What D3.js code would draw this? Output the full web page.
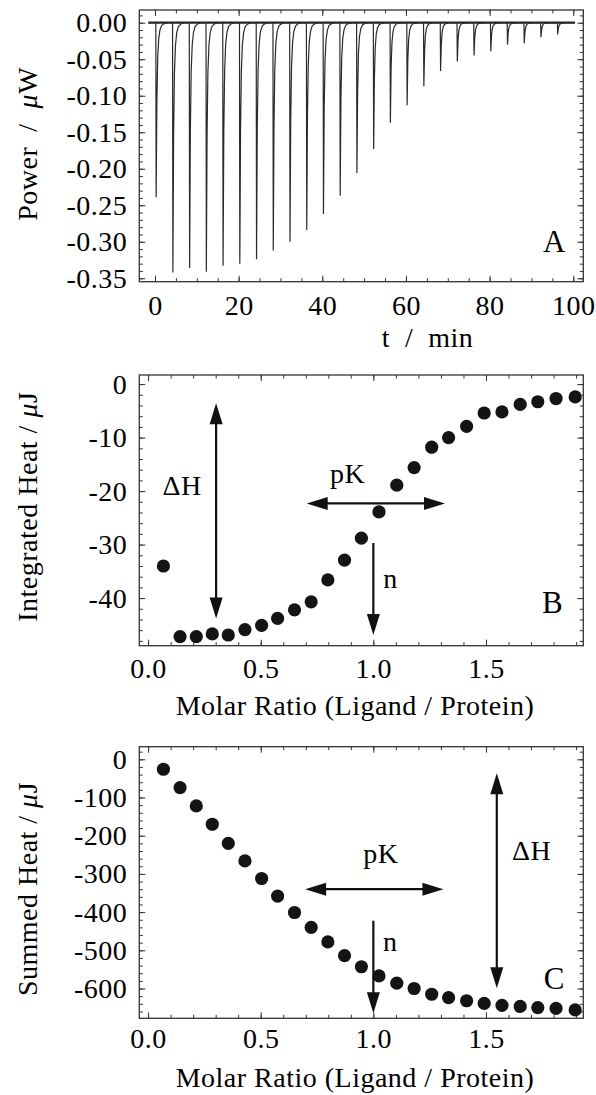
<!DOCTYPE html>
<html>
<head>
<meta charset="utf-8">
<script src="https://cdn.jsdelivr.net/npm/d3@7"></script>
<style>
  body { margin: 0; background: #fff; }
  svg text { font-family: "Liberation Serif", "Times New Roman", serif; fill: #000; letter-spacing: 0.5px; white-space: pre; }
</style>
</head>
<body>
<div id="chart"></div>
<script>
// ITC figure: raw thermogram (A), integrated heats (B), summed heats (C)

// A: injection times (min) and peak power (µW) of each injection
const injTime = [0.2, 4.2, 8.2, 12.2, 16.2, 20.2, 24.2, 28.2, 32.2, 36.2, 40.2, 44.2, 48.2,
                 52.2, 56.2, 60.2, 64.2, 68.2, 72.2, 76.2, 80.2, 84.2, 88.2, 92.2, 96.2];
const peakPower = [-0.239, -0.342, -0.336, -0.341, -0.333, -0.330, -0.324, -0.312, -0.300,
                   -0.284, -0.262, -0.237, -0.206, -0.173, -0.137, -0.113, -0.087, -0.066,
                   -0.053, -0.045, -0.039, -0.030, -0.028, -0.020, -0.016];
// shape of one peak: minutes after injection / fraction of peak depth
const peakOffset = [0, 0.08, 0.25, 0.45, 0.7, 1.0, 1.4, 2.0, 2.8];
const peakFrac = [0, 1, 0.45, 0.2, 0.09, 0.04, 0.015, 0.005, 0];
const traceStart = -1.6, traceEnd = 100.4;

// B/C: molar ratio, integrated heat (µJ), summed heat (µJ)
const molarRatio = [0.068, 0.142, 0.214, 0.285, 0.356, 0.430, 0.504, 0.575, 0.650, 0.724,
                    0.798, 0.872, 0.947, 1.025, 1.104, 1.181, 1.259, 1.334, 1.414, 1.492,
                    1.571, 1.652, 1.730, 1.811, 1.896];
const intHeat = [-34.0, -47.2, -47.2, -46.7, -46.9, -45.9, -45.1, -43.8, -42.2, -40.7,
                 -36.6, -32.9, -28.8, -23.9, -18.9, -15.6, -11.8, -10.0, -7.9, -5.4,
                 -5.2, -3.8, -3.3, -2.7, -2.4];
const sumHeat = [-26, -74, -122, -170, -220, -266, -312, -358, -401, -440,
                 -478, -514, -543, -567, -586, -600, -615, -624, -632, -639,
                 -644, -647, -650, -652, -656];

// tick labels
const timeTicks = [0, 20, 40, 60, 80, 100];
const powerTicks = [0, -0.05, -0.10, -0.15, -0.20, -0.25, -0.30, -0.35];
const ratioTicks = [0, 0.5, 1.0, 1.5];
const intTicks = [0, -10, -20, -30, -40];
const sumTicks = [0, -100, -200, -300, -400, -500, -600];

const W = 596, H = 1095;
const L = 139.3, PW = 444;
const FS = 28;
const INK = "#111";

const svg = d3.select("#chart").append("svg").attr("width", W).attr("height", H);

const range = (a, b, s) => d3.range(Math.round(a / s), Math.round(b / s) + 1).map(i => +(i * s).toFixed(4));
// hyphen instead of unicode minus, like the original
const fmt = spec => { const f = d3.format(spec); return v => f(v).replace("−", "-"); };

function panel(o) {
    const g = svg.append("g").attr("transform", `translate(${L},${o.top})`);
    const h = o.h;
    const x = d3.scaleLinear().domain(o.xDom).range([0, PW]);
    const y = d3.scaleLinear().domain(o.yDom).range([0, h]);

    const axes = [
        [d3.axisBottom, `translate(0,${h})`, x, o.xMaj, o.xMin, o.xFmt, o.xPad],
        [d3.axisTop, null, x, o.xMaj, o.xMin, null],
        [d3.axisLeft, null, y, o.yMaj, o.yMin, o.yFmt, 12],
        [d3.axisRight, `translate(${PW},0)`, y, o.yMaj, o.yMin, null]
    ];
    axes.forEach(([ax, tr, sc, maj, min, f, pad]) => {
        const minor = g.append("g").call(ax(sc).tickValues(min).tickSize(-3.5).tickFormat(""));
        const major = g.append("g").call(ax(sc).tickValues(maj).tickSize(-6).tickPadding(pad || 0)
            .tickFormat(f || ""));
        [minor, major].forEach(a => {
            if (tr) a.attr("transform", tr);
            a.select(".domain").remove();
            a.selectAll("line").attr("stroke", "#333").attr("stroke-width", 1);
            a.selectAll("text").attr("font-size", FS).attr("fill", "#000")
                .style("font-family", '"Liberation Serif", serif');
        });
    });
    g.append("rect").attr("width", PW).attr("height", h)
        .attr("fill", "none").attr("stroke", "#333").attr("stroke-width", 1.3);

    // x title
    g.append("text").attr("x", o.xtX - L).attr("y", o.xtY - o.top)
        .attr("text-anchor", "middle").attr("font-size", FS).text(o.xTitle);
    // y title
    const yt = g.append("text").attr("transform", `translate(${37 - L},${o.ytY - o.top}) rotate(-90)`)
        .attr("text-anchor", "middle").attr("font-size", FS);
    yt.append("tspan").text(o.yTitle[0]);
    yt.append("tspan").attr("font-style", "italic").text("μ");
    yt.append("tspan").text(o.yTitle[1]);
    // panel letter
    g.append("text").attr("x", o.letter[1] - L).attr("y", o.letter[2] - o.top)
        .attr("text-anchor", "end").attr("font-size", 31).text(o.letter[0]);
    return { g, x, y };
}

function arrow(g, x1, y1, x2, y2, both) {
    const len = 21, hw = 6.5;
    const dx = x2 - x1, dy = y2 - y1, d = Math.hypot(dx, dy);
    const ux = dx / d, uy = dy / d;
    const sx = both ? x1 + ux * (len - 2) : x1, sy = both ? y1 + uy * (len - 2) : y1;
    g.append("line").attr("x1", sx).attr("y1", sy)
        .attr("x2", x2 - ux * (len - 2)).attr("y2", y2 - uy * (len - 2))
        .attr("stroke", INK).attr("stroke-width", 2.2);
    const head = (tx, ty, vx, vy) => {
        const bx = tx - vx * len, by = ty - vy * len;
        g.append("path")
            .attr("d", `M${tx},${ty}L${bx - vy * hw},${by + vx * hw}L${bx + vy * hw},${by - vx * hw}Z`)
            .attr("fill", INK);
    };
    head(x2, y2, ux, uy);
    if (both) head(x1, y1, -ux, -uy);
}

function label(g, x, y, txt, anchor) {
    g.append("text").attr("x", x).attr("y", y).attr("font-size", FS)
        .attr("text-anchor", anchor || "middle").text(txt);
}

// ---------- A ----------
const A = panel({
    top: 10, h: 271.7,
    xDom: [-3.75, 102.4], yDom: [0.0174, -0.3547],
    xMaj: timeTicks, xMin: range(0, 100, 5), xFmt: fmt("d"), xPad: 13,
    yMaj: powerTicks, yMin: range(-0.35, 0.01, 0.01), yFmt: fmt(".2f"),
    xTitle: "t  /  min", xtX: 427.5, xtY: 346.7,
    yTitle: ["Power  /  ", "W"], ytY: 143.8,
    letter: ["A", 566, 251.7]
});
const trace = [[traceStart, 0]];
injTime.forEach((t, i) => {
    peakOffset.forEach((dt, k) => trace.push([t + dt, peakPower[i] * peakFrac[k]]));
});
trace.push([traceEnd, 0]);
const line = d3.line().x(d => A.x(d[0])).y(d => A.y(d[1]));
// noisy baseline reads as a thicker band in the original
A.g.append("path").datum([[traceStart, 0], [traceEnd, 0]]).attr("d", line)
    .attr("fill", "none").attr("stroke", "#222").attr("stroke-width", 2.2);
A.g.append("path").datum(trace).attr("d", line)
    .attr("fill", "none").attr("stroke", "#2a2a2a").attr("stroke-width", 1.2);

// ---------- B ----------
const B = panel({
    top: 375, h: 270.7,
    xDom: [-0.039, 1.932], yDom: [1.7, -48.9],
    xMaj: ratioTicks, xMin: range(0, 1.9, 0.1), xFmt: fmt(".1f"), xPad: 12,
    yMaj: intTicks, yMin: range(-48, 0, 2), yFmt: fmt("d"),
    xTitle: "Molar Ratio (Ligand / Protein)", xtX: 355, xtY: 715,
    yTitle: ["Integrated Heat / ", "J"], ytY: 506.7,
    letter: ["B", 563.3, 613.3]
});
B.g.selectAll("circle.pt").data(molarRatio).join("circle").attr("class", "pt")
    .attr("cx", d => B.x(d)).attr("cy", (d, i) => B.y(intHeat[i]))
    .attr("r", 6.6).attr("fill", "#141414");
arrow(B.g, B.x(0.302), B.y(-3.6), B.x(0.302), B.y(-43.8), true);
label(B.g, B.x(0.151), B.y(-20.8), "ΔH");
arrow(B.g, B.x(0.704), B.y(-22.3), B.x(1.318), B.y(-22.3), true);
label(B.g, B.x(0.886), B.y(-18.4), "pK");
arrow(B.g, B.x(1.0), B.y(-29.7), B.x(1.0), B.y(-46.9), false);
label(B.g, B.x(1.044), B.y(-38.1), "n", "start");

// ---------- C ----------
const C = panel({
    top: 746.7, h: 271.6,
    xDom: [-0.039, 1.932], yDom: [33, -678],
    xMaj: ratioTicks, xMin: range(0, 1.9, 0.1), xFmt: fmt(".1f"), xPad: 10,
    yMaj: sumTicks, yMin: range(-660, 20, 20), yFmt: fmt("d"),
    xTitle: "Molar Ratio (Ligand / Protein)", xtX: 355, xtY: 1086.7,
    yTitle: ["Summed Heat / ", "J"], ytY: 889,
    letter: ["C", 565, 989.3]
});
C.g.selectAll("circle.pt").data(molarRatio).join("circle").attr("class", "pt")
    .attr("cx", d => C.x(d)).attr("cy", (d, i) => C.y(sumHeat[i]))
    .attr("r", 6.6).attr("fill", "#141414");
arrow(C.g, C.x(1.548), C.y(-36.6), C.x(1.548), C.y(-599.5), true);
label(C.g, C.x(1.703), C.y(-263.6), "ΔH");
arrow(C.g, C.x(0.697), C.y(-340), C.x(1.311), C.y(-340), true);
label(C.g, C.x(1.033), C.y(-272), "pK");
arrow(C.g, C.x(1.0), C.y(-422.5), C.x(1.0), C.y(-665), false);
label(C.g, C.x(1.043), C.y(-501), "n", "start");
</script>
</body>
</html>
